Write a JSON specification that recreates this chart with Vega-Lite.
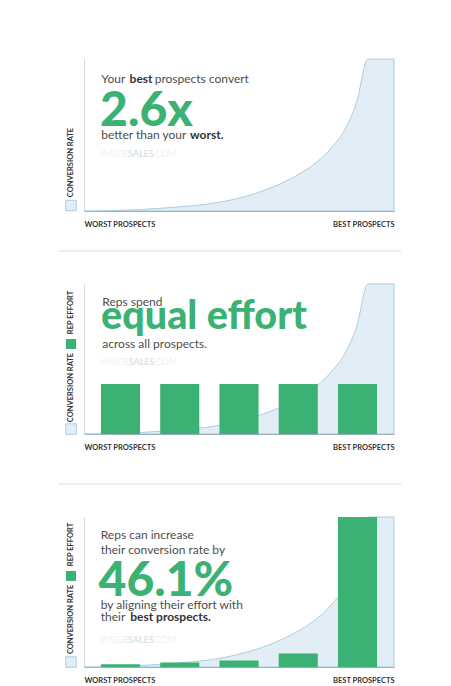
{
  "$schema": "https://vega.github.io/schema/vega-lite/v6.json",
  "background": "white",
  "padding": {"left": 57, "top": 57, "right": 4, "bottom": 4},
  "bounds": "flush",
  "spacing": 73,
  "datasets": {
    "curve": [
      {"x": 0, "y": 0}, {"x": 10, "y": 0.3}, {"x": 20, "y": 1.2}, {"x": 30, "y": 2.6},
      {"x": 40, "y": 4.6}, {"x": 50, "y": 8.5}, {"x": 60, "y": 15}, {"x": 65, "y": 19.5},
      {"x": 70, "y": 25}, {"x": 75, "y": 32}, {"x": 80, "y": 42}, {"x": 84, "y": 53},
      {"x": 88, "y": 72}, {"x": 91.6, "y": 100}, {"x": 100, "y": 100}
    ],
    "equal": [
      {"p": "1", "e": 33.3}, {"p": "2", "e": 33.3}, {"p": "3", "e": 33.3}, {"p": "4", "e": 33.3}, {"p": "5", "e": 33.3}
    ],
    "aligned": [
      {"p": "1", "e": 1.8}, {"p": "2", "e": 3}, {"p": "3", "e": 4.3}, {"p": "4", "e": 9}, {"p": "5", "e": 100}
    ],
    "one": [{}]
  },
  "config": {
    "font": "Lato",
    "view": {"stroke": null},
    "axisX": {"domainColor": "#8f8f8f", "domainWidth": 1, "ticks": false, "grid": false, "labelFontWeight": "bold", "labelFontSize": 7.5, "labelColor": "#333333", "labelPadding": 9, "title": null},
    "axisY": {"domainColor": "#d6d6d6", "domainWidth": 1, "ticks": false, "grid": false, "labels": false, "title": null},
    "text": {"font": "Lato", "fontSize": 12, "color": "#4d4d4d", "align": "left", "baseline": "alphabetic"}
  },
  "vconcat": [
    {
      "width": 310, "height": 152,
      "data": {"name": "one"},
      "layer": [
        {"data": {"name": "curve"}, "mark": {"type": "area", "interpolate": "monotone", "fill": "#e3edf5", "stroke": "#a9cfe0", "strokeWidth": 1},
         "encoding": {
           "x": {"field": "x", "type": "quantitative", "scale": {"domain": [0, 100], "nice": false, "zero": false},
                 "axis": {"values": [0, 100], "labelExpr": "datum.value == 0 ? 'WORST PROSPECTS' : 'BEST PROSPECTS'", "labelAlign": {"condition": {"test": "datum.value < 50", "value": "left"}, "value": "right"}}},
           "y": {"field": "y", "type": "quantitative", "scale": {"domain": [0, 100], "nice": false}, "axis": {"title": null}}
         }},
        {"mark": {"type": "text"}, "encoding": {"x": {"datum": 5.58}, "y": {"datum": 84.4}, "text": {"value": "Your"}}},
        {"mark": {"type": "text", "fontWeight": "bold", "color": "#333333"}, "encoding": {"x": {"datum": 14.7}, "y": {"datum": 84.4}, "text": {"value": "best"}}},
        {"mark": {"type": "text"}, "encoding": {"x": {"datum": 22.8}, "y": {"datum": 84.4}, "text": {"value": "prospects convert"}}},
        {"mark": {"type": "text", "fontSize": 48, "fontWeight": 900, "color": "#3bb273"}, "encoding": {"x": {"datum": 5.2}, "y": {"datum": 55.9}, "text": {"value": "2.6x"}}},
        {"mark": {"type": "text"}, "encoding": {"x": {"datum": 5.58}, "y": {"datum": 47.2}, "text": {"value": "better than your"}}},
        {"mark": {"type": "text", "fontWeight": "bold", "color": "#333333"}, "encoding": {"x": {"datum": 34.2}, "y": {"datum": 47.2}, "text": {"value": "worst."}}},
        {"mark": {"type": "text", "fontSize": 9, "fontWeight": 300, "color": "#e3e9ef", "baseline": "middle"}, "encoding": {"x": {"datum": 5.39}, "y": {"datum": 37.3}, "text": {"value": "INSIDE"}}},
        {"mark": {"type": "text", "fontSize": 9, "fontWeight": "bold", "color": "#dbe3ea", "baseline": "middle"}, "encoding": {"x": {"datum": 14.2}, "y": {"datum": 37.3}, "text": {"value": "SALES"}}},
        {"mark": {"type": "text", "fontSize": 9, "fontWeight": 300, "color": "#e3e9ef", "baseline": "middle"}, "encoding": {"x": {"datum": 22.3}, "y": {"datum": 37.3}, "text": {"value": ".COM"}}},
        {"mark": {"type": "point", "shape": "square", "size": 110, "filled": true, "fill": "#e3edf5", "stroke": "#a9cfe0", "strokeWidth": 1, "opacity": 1}, "encoding": {"x": {"datum": -4.2}, "y": {"datum": 3.6}}},
        {"mark": {"type": "text", "angle": 270, "fontSize": 7.5, "fontWeight": "bold", "color": "#333333", "align": "center", "baseline": "middle"}, "encoding": {"x": {"datum": -4.2}, "y": {"datum": 31.9}, "text": {"value": "CONVERSION RATE"}}},
        {"mark": {"type": "rule", "color": "#eeeeee", "strokeWidth": 2}, "encoding": {"x": {"datum": -8.1}, "x2": {"datum": 102.3}, "y": {"datum": -26.3}}}
      ]
    },
    {
      "bounds": "flush",
      "spacing": 83,
      "vconcat": [
        {
          "width": 310, "height": 150,
          "resolve": {"scale": {"x": "independent"}},
          "layer": [
            {
              "data": {"name": "one"},
              "layer": [
                {"data": {"name": "curve"}, "mark": {"type": "area", "interpolate": "monotone", "fill": "#e3edf5", "stroke": "#a9cfe0", "strokeWidth": 1},
                 "encoding": {
                   "x": {"field": "x", "type": "quantitative", "scale": {"domain": [0, 100], "nice": false, "zero": false},
                         "axis": {"values": [0, 100], "labelExpr": "datum.value == 0 ? 'WORST PROSPECTS' : 'BEST PROSPECTS'", "labelAlign": {"condition": {"test": "datum.value < 50", "value": "left"}, "value": "right"}}},
                   "y": {"field": "y", "type": "quantitative", "scale": {"domain": [0, 100], "nice": false}, "axis": {"title": null}}
                 }},
                {"mark": {"type": "text"}, "encoding": {"x": {"datum": 5.9}, "y": {"datum": 85.3}, "text": {"value": "Reps spend"}}},
                {"mark": {"type": "text", "fontSize": 39.5, "fontWeight": 900, "color": "#3bb273"}, "encoding": {"x": {"datum": 5.5}, "y": {"datum": 69.8}, "text": {"value": "equal effort"}}},
                {"mark": {"type": "text"}, "encoding": {"x": {"datum": 5.9}, "y": {"datum": 57.5}, "text": {"value": "across all prospects."}}},
                {"mark": {"type": "text", "fontSize": 9, "fontWeight": 300, "color": "#e3e9ef", "baseline": "middle"}, "encoding": {"x": {"datum": 5.6}, "y": {"datum": 48.2}, "text": {"value": "INSIDE"}}},
                {"mark": {"type": "text", "fontSize": 9, "fontWeight": "bold", "color": "#dbe3ea", "baseline": "middle"}, "encoding": {"x": {"datum": 14.4}, "y": {"datum": 48.2}, "text": {"value": "SALES"}}},
                {"mark": {"type": "text", "fontSize": 9, "fontWeight": 300, "color": "#e3e9ef", "baseline": "middle"}, "encoding": {"x": {"datum": 22.5}, "y": {"datum": 48.2}, "text": {"value": ".COM"}}},
                {"mark": {"type": "point", "shape": "square", "size": 110, "filled": true, "fill": "#e3edf5", "stroke": "#a9cfe0", "strokeWidth": 1, "opacity": 1}, "encoding": {"x": {"datum": -4.2}, "y": {"datum": 3.3}}},
                {"mark": {"type": "text", "angle": 270, "fontSize": 7.5, "fontWeight": "bold", "color": "#333333", "align": "center", "baseline": "middle"}, "encoding": {"x": {"datum": -4.2}, "y": {"datum": 31}, "text": {"value": "CONVERSION RATE"}}},
                {"mark": {"type": "point", "shape": "square", "size": 100, "filled": true, "fill": "#3bb273", "strokeWidth": 0, "opacity": 1}, "encoding": {"x": {"datum": -4.2}, "y": {"datum": 60}}},
                {"mark": {"type": "text", "angle": 270, "fontSize": 7.5, "fontWeight": "bold", "color": "#333333", "align": "center", "baseline": "middle"}, "encoding": {"x": {"datum": -4.2}, "y": {"datum": 81}, "text": {"value": "REP EFFORT"}}},
                {"mark": {"type": "rule", "color": "#eeeeee", "strokeWidth": 2}, "encoding": {"x": {"datum": -8.1}, "x2": {"datum": 102.3}, "y": {"datum": -33.3}}}
              ]
            },
            {"data": {"name": "equal"}, "mark": {"type": "bar", "color": "#3bb273"},
             "encoding": {
               "x": {"field": "p", "type": "nominal", "scale": {"paddingInner": 0.34, "paddingOuter": 0.286}, "axis": null},
               "y": {"field": "e", "type": "quantitative", "scale": {"domain": [0, 100], "nice": false}, "axis": {"title": null}}
             }}
          ]
        },
        {
          "width": 310, "height": 150,
          "resolve": {"scale": {"x": "independent"}},
          "layer": [
            {
              "data": {"name": "one"},
              "layer": [
                {"data": {"name": "curve"}, "mark": {"type": "area", "interpolate": "monotone", "fill": "#e3edf5", "stroke": "#a9cfe0", "strokeWidth": 1},
                 "encoding": {
                   "x": {"field": "x", "type": "quantitative", "scale": {"domain": [0, 100], "nice": false, "zero": false},
                         "axis": {"values": [0, 100], "labelExpr": "datum.value == 0 ? 'WORST PROSPECTS' : 'BEST PROSPECTS'", "labelAlign": {"condition": {"test": "datum.value < 50", "value": "left"}, "value": "right"}}},
                   "y": {"field": "y", "type": "quantitative", "scale": {"domain": [0, 100], "nice": false}, "axis": {"title": null}}
                 }},
                {"mark": {"type": "text"}, "encoding": {"x": {"datum": 5.4}, "y": {"datum": 85.1}, "text": {"value": "Reps can increase"}}},
                {"mark": {"type": "text"}, "encoding": {"x": {"datum": 5.4}, "y": {"datum": 75.6}, "text": {"value": "their conversion rate by"}}},
                {"mark": {"type": "text", "fontSize": 48, "fontWeight": 900, "color": "#3bb273"}, "encoding": {"x": {"datum": 4.7}, "y": {"datum": 47.3}, "text": {"value": "46.1%"}}},
                {"mark": {"type": "text"}, "encoding": {"x": {"datum": 5.4}, "y": {"datum": 38.9}, "text": {"value": "by aligning their effort with"}}},
                {"mark": {"type": "text"}, "encoding": {"x": {"datum": 5.4}, "y": {"datum": 30.7}, "text": {"value": "their"}}},
                {"mark": {"type": "text", "fontWeight": "bold", "color": "#333333"}, "encoding": {"x": {"datum": 14.9}, "y": {"datum": 30.7}, "text": {"value": "best prospects."}}},
                {"mark": {"type": "text", "fontSize": 9, "fontWeight": 300, "color": "#e3e9ef", "baseline": "middle"}, "encoding": {"x": {"datum": 5.39}, "y": {"datum": 17.8}, "text": {"value": "INSIDE"}}},
                {"mark": {"type": "text", "fontSize": 9, "fontWeight": "bold", "color": "#dbe3ea", "baseline": "middle"}, "encoding": {"x": {"datum": 14.2}, "y": {"datum": 17.8}, "text": {"value": "SALES"}}},
                {"mark": {"type": "text", "fontSize": 9, "fontWeight": 300, "color": "#e3e9ef", "baseline": "middle"}, "encoding": {"x": {"datum": 22.3}, "y": {"datum": 17.8}, "text": {"value": ".COM"}}},
                {"mark": {"type": "point", "shape": "square", "size": 110, "filled": true, "fill": "#e3edf5", "stroke": "#a9cfe0", "strokeWidth": 1, "opacity": 1}, "encoding": {"x": {"datum": -4.2}, "y": {"datum": 3.3}}},
                {"mark": {"type": "text", "angle": 270, "fontSize": 7.5, "fontWeight": "bold", "color": "#333333", "align": "center", "baseline": "middle"}, "encoding": {"x": {"datum": -4.2}, "y": {"datum": 31.7}, "text": {"value": "CONVERSION RATE"}}},
                {"mark": {"type": "point", "shape": "square", "size": 100, "filled": true, "fill": "#3bb273", "strokeWidth": 0, "opacity": 1}, "encoding": {"x": {"datum": -4.2}, "y": {"datum": 60.7}}},
                {"mark": {"type": "text", "angle": 270, "fontSize": 7.5, "fontWeight": "bold", "color": "#333333", "align": "center", "baseline": "middle"}, "encoding": {"x": {"datum": -4.2}, "y": {"datum": 81.7}, "text": {"value": "REP EFFORT"}}}
              ]
            },
            {"data": {"name": "aligned"}, "mark": {"type": "bar", "color": "#3bb273"},
             "encoding": {
               "x": {"field": "p", "type": "nominal", "scale": {"paddingInner": 0.34, "paddingOuter": 0.286}, "axis": null},
               "y": {"field": "e", "type": "quantitative", "scale": {"domain": [0, 100], "nice": false}, "axis": {"title": null}}
             }}
          ]
        }
      ]
    }
  ]
}
